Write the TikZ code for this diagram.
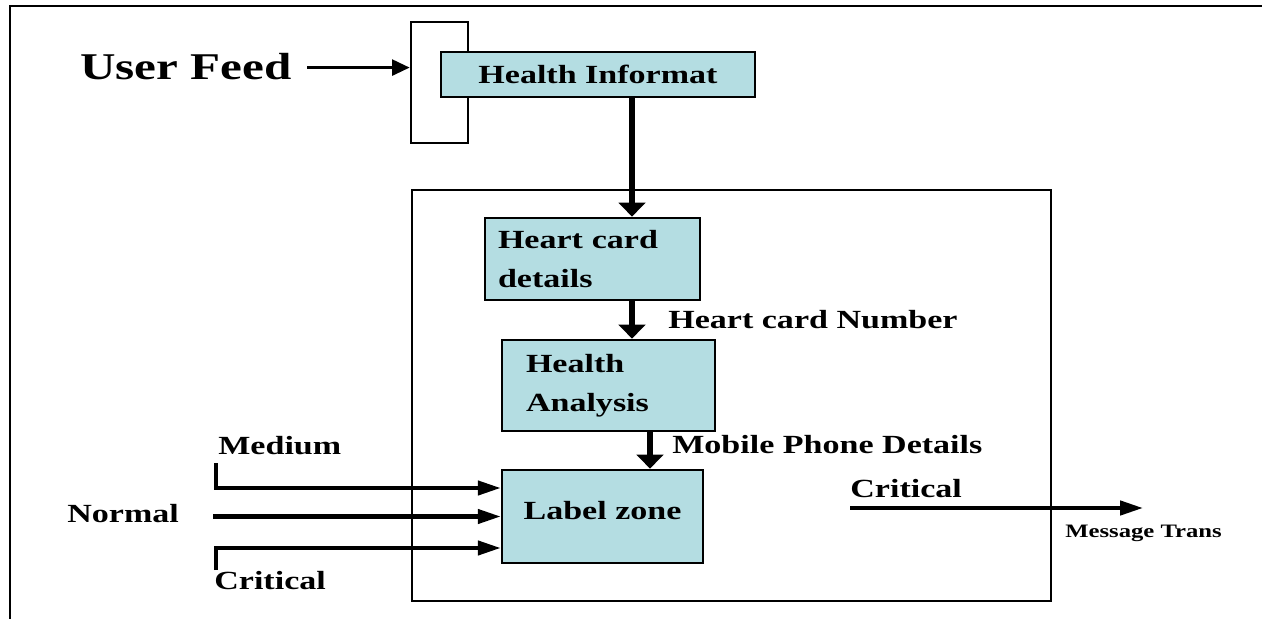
\documentclass[tikz,border=0pt]{standalone}
\usepackage{fontspec}
\setmainfont[FakeStretch=1.3]{Liberation Serif}
\usetikzlibrary{arrows.meta}
\definecolor{boxblue}{RGB}{180,221,226}

\begin{document}
\begin{tikzpicture}[
		x=0.02cm, y=-0.02cm,
		blk/.style={draw, line width=1.5pt, fill=boxblue, font=\bfseries\fontsize{14.9}{22}\selectfont},
		lbl/.style={inner sep=0pt, anchor=base west, font=\bfseries\fontsize{14.9}{22}\selectfont},
		harr/.style={line width=2.3pt, -{Triangle[length=13pt,width=8pt]}},
		varr/.style={line width=3pt, -{Triangle[length=8pt,width=15pt]}}
	]
	\useasboundingbox (0,0) rectangle (1262,619);
	\draw[line width=1.5pt] (1262,6) -- (10,6) -- (10,619);

	% feed
	\node[draw, line width=1.5pt, minimum width=1.14cm, minimum height=2.42cm] (bar) at (439.5,82.5) {};
	\node[blk, minimum width=6.28cm, minimum height=0.9cm] (hinfo) at (598,74.5) {Health Informat};
	\node[lbl, font=\bfseries\fontsize{21.5}{26}\selectfont] (feed) at (80,79) {User Feed};
	\draw[line width=1.7pt, -{Triangle[length=10pt,width=9pt]}] ([xshift=0.3cm,yshift=-0.03cm]feed.east) -- ([yshift=-0.03cm]feed.east -| bar.west);

	% system
	\node[draw, line width=1.5pt, minimum width=12.78cm, minimum height=8.22cm] (sys) at (731.5,395.5) {};
	\node[blk, minimum width=4.3cm, minimum height=1.64cm, text width=3.78cm, align=left] (hcard) at (592.5,259) {Heart card\\details};
	\node[blk, minimum width=4.26cm, minimum height=1.82cm, text width=3.3cm, align=left] (hana) at (608.5,385.5) {Health\\Analysis};
	\node[blk, minimum width=4.02cm, minimum height=1.86cm, text depth=0.25cm] (lzone) at (602.5,516.5) {Label zone};

	\coordinate (ax) at (632,0);
	\coordinate (bx) at (650,0);
	\draw[varr] (hinfo.south -| ax) -- (hcard.north -| ax);
	\draw[varr] (hcard.south -| ax) -- (hana.north -| ax);
	\draw[varr] (hana.south -| bx) -- (lzone.north -| bx);

	\node[lbl] (hnum) at (668,328) {Heart card Number};
	\node[lbl] (mob) at (672,453) {Mobile Phone Details};

	% levels in
	\node[lbl] (med) at (218,454) {Medium};
	\node[lbl] (norm) at (67,522) {Normal};
	\node[lbl] (crit) at (214,589) {Critical};
	\coordinate (medst) at (216,463);
	\coordinate (critst) at (216,570);
	\draw[harr] (medst) |- ([yshift=0.57cm]lzone.west);
	\draw[harr] (lzone.west -| norm.east) ++(0.68cm,0) -- (lzone.west);
	\draw[harr] (critst) |- ([yshift=-0.63cm]lzone.west);

	% out
	\node[lbl] (crit2) at (850,497) {Critical};
	\node[lbl, font=\bfseries\fontsize{10.8}{13}\selectfont] (msg) at (1065,537) {Message Trans};
	\coordinate (outst) at (850,508);
	\coordinate (outend) at (1143,508);
	\draw[harr] (outst) -- (outend);
\end{tikzpicture}
\end{document}
